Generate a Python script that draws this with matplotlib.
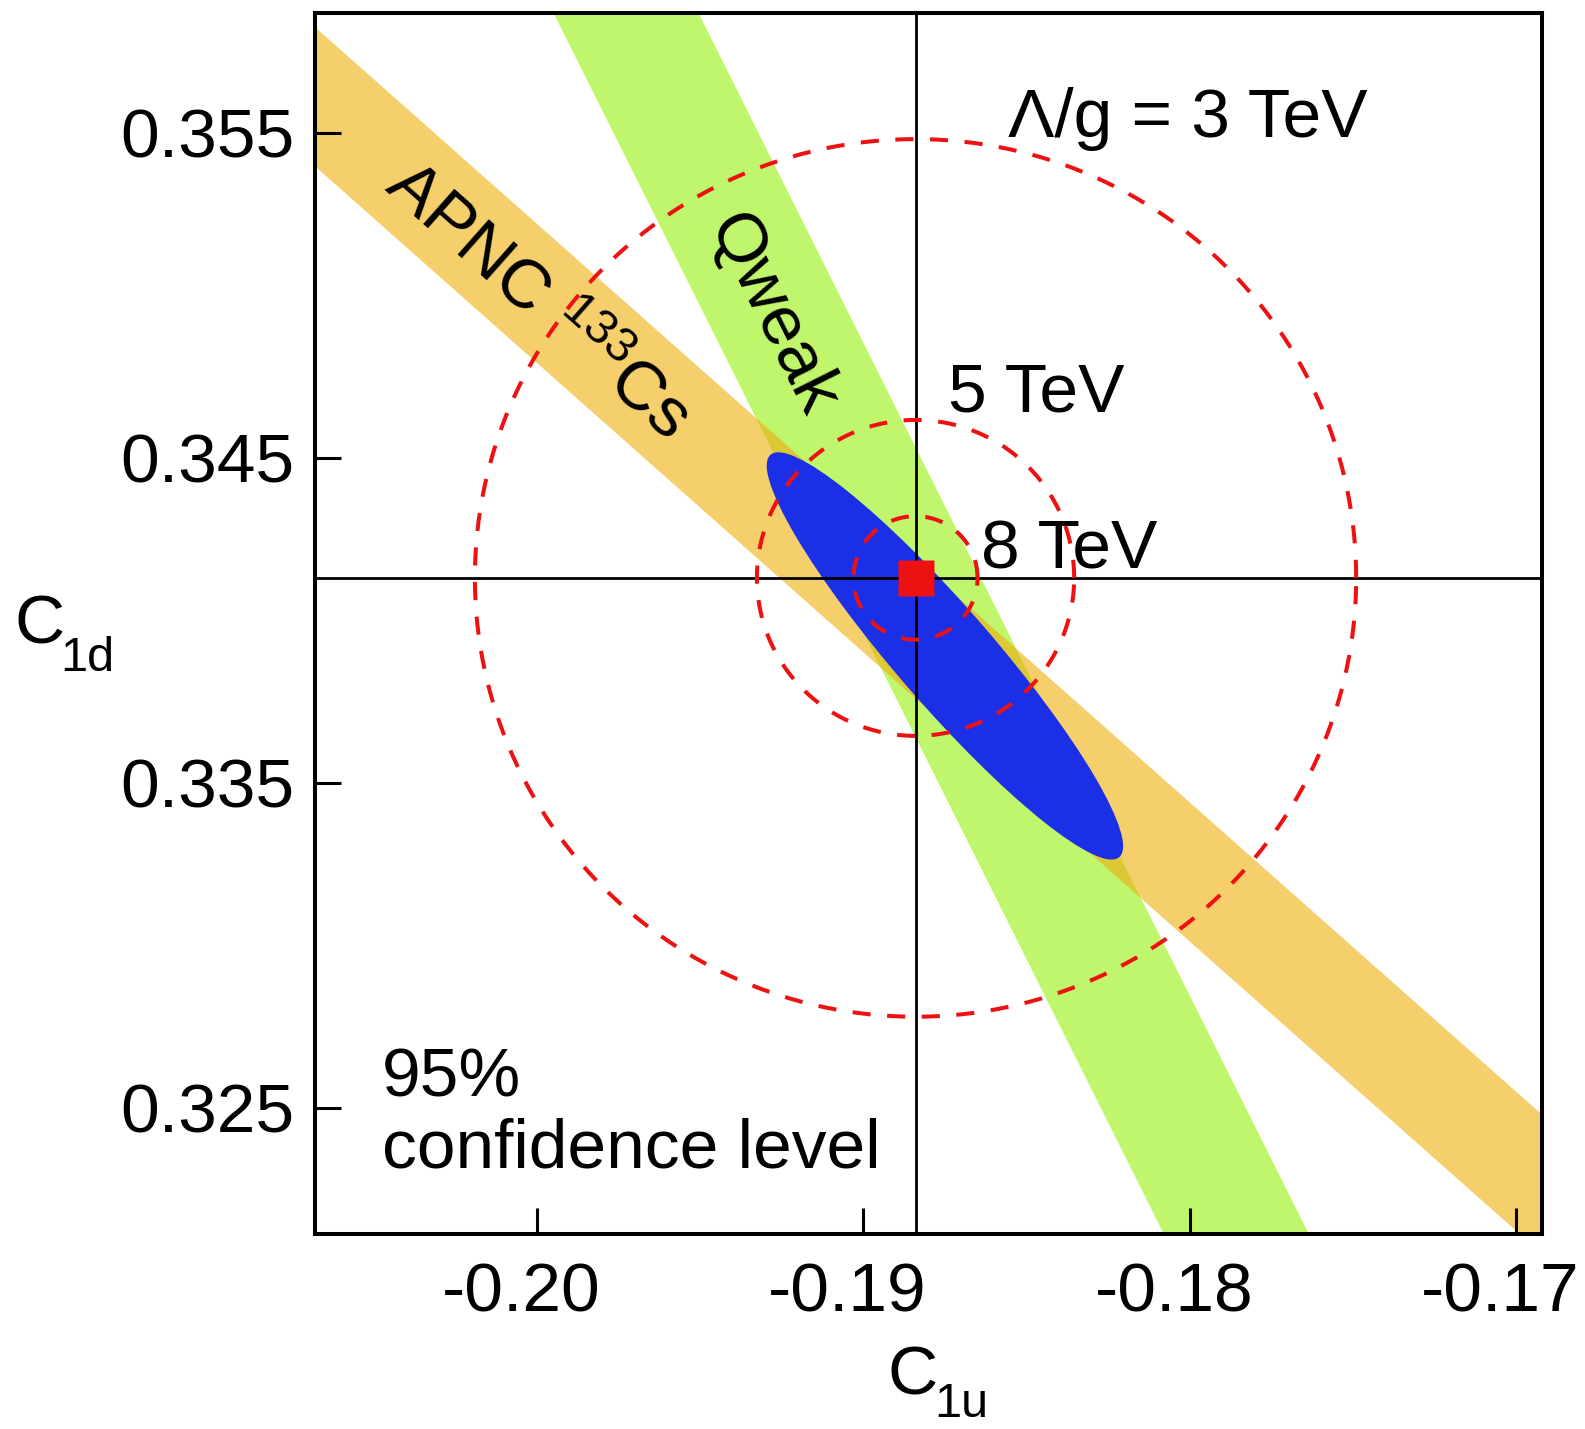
import numpy as np
import matplotlib
matplotlib.use('Agg')
import matplotlib.pyplot as plt
import matplotlib.transforms as mtransforms
from matplotlib.patches import Ellipse, Polygon

plt.rcParams['font.family'] = ['Liberation Sans', 'DejaVu Sans']
plt.rcParams['mathtext.fontset'] = 'custom'
plt.rcParams['mathtext.rm'] = 'Liberation Sans'
plt.rcParams['mathtext.it'] = 'Liberation Sans:italic'
plt.rcParams['mathtext.bf'] = 'Liberation Sans:bold'

# Standard Model point (C1u, C1d)
sm_c1u = -0.1884
sm_c1d = 0.3413

# APNC 133Cs band: centre line through (c1u0, c1d0), slope, half width in C1d
apnc_c1u0 = -0.1884
apnc_c1d0 = 0.33973
apnc_slope = -0.890
apnc_halfw = 0.00214

# Qweak band
qweak_c1u0 = -0.18862
qweak_c1d0 = 0.3413
qweak_slope = -2.009
qweak_halfw = 0.00446

# combined fit, 95% CL ellipse
fit_c1u = -0.18750
fit_c1d = 0.33890
fit_major = 0.01635
fit_minor = 0.00298
fit_angle = -49.2

# mass reach circles (Lambda/g)
scale_labels = ['Λ/g = 3 TeV', '5 TeV', '8 TeV']
scale_radius = [0.0135, 0.00486, 0.0019]

xticks = [-0.20, -0.19, -0.18, -0.17]
xticklabels = ['-0.20', '-0.19', '-0.18', '-0.17']
yticks = [0.325, 0.335, 0.345, 0.355]
yticklabels = ['0.325', '0.335', '0.345', '0.355']
xlim = (-0.2068, -0.1692)
ylim = (0.32110, 0.35867)

orange = '#F6CF6D'
green = '#C0F66C'
olive = '#DCC834'
blue = '#1B30E6'
red = '#EE1111'


def band(c1u0, c1d0, slope, halfw):
    # polygon between two parallel lines
    u = np.array([xlim[0] - 0.02, xlim[1] + 0.02])
    mid = c1d0 + slope * (u - c1u0)
    return np.column_stack([np.r_[u, u[::-1]], np.r_[mid + halfw, (mid - halfw)[::-1]]])


fig = plt.figure(figsize=(15.85, 14.29), dpi=100)
ax = fig.add_axes([0.1987, 0.13611, 0.77432, 0.85458])

apnc = Polygon(band(apnc_c1u0, apnc_c1d0, apnc_slope, apnc_halfw),
               closed=True, facecolor=orange, edgecolor='none', zorder=1)
ax.add_patch(apnc)
qweak = Polygon(band(qweak_c1u0, qweak_c1d0, qweak_slope, qweak_halfw),
                closed=True, facecolor=green, edgecolor='none', zorder=1.1)
ax.add_patch(qweak)
# overlap of the two bands
overlap = Polygon(band(qweak_c1u0, qweak_c1d0, qweak_slope, qweak_halfw),
                  closed=True, facecolor=olive, edgecolor='none', zorder=1.2)
ax.add_patch(overlap)
overlap.set_clip_path(apnc)

ax.add_patch(Ellipse((fit_c1u, fit_c1d), fit_major, fit_minor, angle=fit_angle,
                     facecolor=blue, edgecolor='none', zorder=2))

ax.axvline(sm_c1u, color='black', lw=2.0, zorder=3)
ax.axhline(sm_c1d, color='black', lw=2.0, zorder=3)

t = np.linspace(0, 2 * np.pi, 721)
for r in scale_radius:
    ax.plot(sm_c1u + r * np.cos(t), sm_c1d + r * np.sin(t), color=red, lw=2.9,
            dashes=(4.5, 4.1), zorder=4)

ax.plot([sm_c1u], [sm_c1d], marker='s', ms=26.6, color=red, mec='none', zorder=5)

# labels
fs = 50
ax.text(-0.18557, 0.35485, scale_labels[0], fontsize=fs, ha='left', va='baseline', zorder=6)
ax.text(-0.18741, 0.34643, scale_labels[1], fontsize=fs, ha='left', va='baseline', zorder=6)
ax.text(-0.18638, 0.34159, scale_labels[2], fontsize=fs, ha='left', va='baseline', zorder=6)
ax.text(-0.20475, 0.32534, '95%', fontsize=fs, ha='left', va='baseline', zorder=6)
ax.text(-0.20475, 0.32317, 'confidence level', fontsize=fs, ha='left', va='baseline', zorder=6)
ax.text(-0.19998, 0.34980, r'APNC $^{133}$Cs', fontsize=fs, rotation=-41.5,
        rotation_mode='anchor', ha='center', va='center', zorder=6)
ax.text(-0.19280, 0.34940, 'Qweak', fontsize=fs, rotation=-63.4,
        rotation_mode='anchor', ha='center', va='center', zorder=6)

ax.set_xlim(*xlim)
ax.set_ylim(*ylim)
ax.set_xticks(xticks)
ax.set_xticklabels(xticklabels)
ax.set_yticks(yticks)
ax.set_yticklabels(yticklabels)
ax.tick_params(axis='both', direction='in', length=19, width=2.2, labelsize=fs,
               top=False, right=False)
ax.tick_params(axis='x', pad=19.5)
ax.tick_params(axis='y', pad=15)
for lab in ax.get_xticklabels():
    lab.set_transform(lab.get_transform() +
                      mtransforms.ScaledTranslation(-0.16, 0, fig.dpi_scale_trans))
for s in ax.spines.values():
    s.set_linewidth(2.9)

# axis labels: C with a lowered subscript
ax.set_xlabel('C', fontsize=fs, ha='left', va='baseline')
ax.xaxis.set_label_coords(0.4669, -0.1310)
ax.annotate('1u', xy=(1, 0), xycoords=ax.xaxis.label, xytext=(-3, -6),
            textcoords='offset points', fontsize=35, ha='left', va='baseline',
            annotation_clip=False)
ax.set_ylabel('C', fontsize=fs, rotation=0, ha='left', va='baseline')
ax.yaxis.set_label_coords(-0.2447, 0.4840)
ax.annotate('1d', xy=(1, 0), xycoords=ax.yaxis.label, xytext=(-3, -9.6),
            textcoords='offset points', fontsize=35, ha='left', va='baseline',
            annotation_clip=False)

fig.savefig('out.png', dpi=100)
